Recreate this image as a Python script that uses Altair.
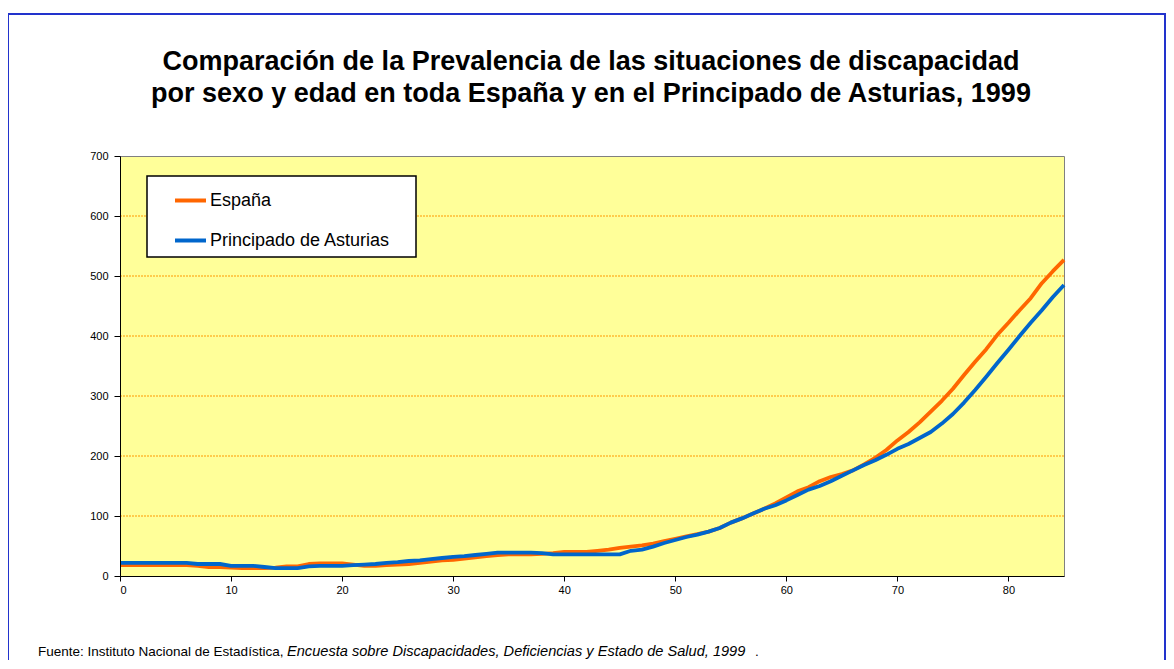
import altair as alt
import pandas as pd

# ---- data ----
ages = list(range(86))
espana = [18, 18, 18, 18, 18, 18, 18, 17, 15, 15,
          14, 13, 13, 13, 14, 16, 16, 20, 21, 21,
          21, 19, 17, 17, 18, 19, 20, 22, 24, 26,
          27, 29, 31, 33, 35, 36, 36, 36, 37, 38,
          40, 40, 40, 42, 44, 47, 49, 51, 54, 58,
          62, 66, 70, 74, 80, 89, 96, 104, 112, 121,
          131, 141, 148, 158, 165, 170, 176, 186, 197, 210,
          226, 240, 256, 274, 292, 312, 335, 357, 378, 402,
          422, 443, 463, 488, 508, 527]
asturias = [22, 22, 22, 22, 22, 22, 22, 20, 20, 20,
            17, 17, 17, 15, 13, 13, 13, 16, 17, 17,
            17, 18, 19, 20, 22, 23, 25, 26, 28, 30,
            32, 33, 35, 37, 39, 39, 39, 39, 38, 36,
            36, 36, 36, 36, 36, 36, 42, 44, 49, 55,
            60, 65, 69, 74, 80, 89, 96, 104, 112, 118,
            126, 135, 144, 150, 158, 167, 176, 185, 193, 202,
            212, 220, 230, 240, 254, 270, 289, 310, 332, 355,
            377, 400, 422, 443, 465, 485]
series_names = ["España", "Principado de Asturias"]
series_colors = ["#FF6600", "#0066CC"]
y_ticks = [0, 100, 200, 300, 400, 500, 600, 700]
x_ticks = [0, 10, 20, 30, 40, 50, 60, 70, 80]
grid_values = [100, 200, 300, 400, 500, 600]

title_lines = ["Comparación de la Prevalencia de las situaciones de discapacidad",
               "por sexo y edad en toda España y en el Principado de Asturias, 1999"]
footer_normal = "Fuente: Instituto Nacional de Estadística,"
footer_italic = "Encuesta sobre Discapacidades, Deficiencias y Estado de Salud, 1999"
footer_end = "."

rows = []
for name, vals in zip(series_names, [espana, asturias]):
    for a, v in zip(ages, vals):
        rows.append({"edad": a, "valor": v, "serie": name})
df = pd.DataFrame(rows)

W, H = 944, 420
FONT = "Liberation Sans"

xscale = alt.Scale(domain=[0, 85], nice=False, zero=False)
yscale = alt.Scale(domain=[0, 700], nice=False)
xaxis = alt.Axis(values=x_ticks, title=None, grid=False, tickSize=5, labelPadding=3,
                 labelFontSize=11, labelFont=FONT, labelColor="black",
                 tickColor="black", domainColor="black", zindex=1)
yaxis = alt.Axis(values=y_ticks, title=None, grid=False, tickSize=6, labelPadding=6,
                 labelFontSize=11, labelFont=FONT, labelColor="black",
                 tickColor="black", domainColor="black", zindex=1)

grid = alt.Chart(pd.DataFrame({"v": grid_values})).mark_rule(
    color="#FF9900", strokeWidth=1, strokeDash=[2, 1]
).encode(y=alt.Y("v:Q", scale=yscale, axis=yaxis))

lines = alt.Chart(df).mark_line(strokeWidth=3.8, strokeJoin="round").encode(
    x=alt.X("edad:Q", scale=xscale, axis=xaxis),
    y=alt.Y("valor:Q", scale=yscale, axis=yaxis),
    color=alt.Color("serie:N", scale=alt.Scale(domain=series_names, range=series_colors),
                    legend=alt.Legend(title=None, orient="none", legendX=53, legendY=27,
                                      symbolType="stroke", symbolSize=961,
                                      symbolStrokeWidth=4, symbolOpacity=1,
                                      labelFontSize=18, labelFont=FONT, labelColor="black",
                                      labelLimit=0, labelOffset=2, rowPadding=13, padding=0)),
)

one = pd.DataFrame({"k": [0]})
legend_box = alt.Chart(one).mark_rect(fill="white", stroke="black", strokeWidth=1.5).encode(
    x=alt.value(27), x2=alt.value(296), y=alt.value(20), y2=alt.value(101)
)

page_border = alt.Chart(one).mark_rect(fill=None, stroke="#2233CC", strokeWidth=2).encode(
    x=alt.value(-112), x2=alt.value(1045), y=alt.value(-142), y2=alt.value(600)
)

title1 = alt.Chart(one).mark_text(text=title_lines[0], font=FONT, fontSize=27, fontWeight="bold",
                                  align="center", baseline="alphabetic", color="black").encode(
    x=alt.value(W / 2 - 1), y=alt.value(-86))
title2 = alt.Chart(one).mark_text(text=title_lines[1], font=FONT, fontSize=27, fontWeight="bold",
                                  align="center", baseline="alphabetic", color="black").encode(
    x=alt.value(W / 2 - 1), y=alt.value(-54))

fx0 = -82
fy = 500
fx1 = 167
fx2 = 635
foot1 = alt.Chart(one).mark_text(text=footer_normal, font=FONT, fontSize=13.5, align="left",
                                 baseline="alphabetic", color="black").encode(
    x=alt.value(fx0), y=alt.value(fy))
foot2 = alt.Chart(one).mark_text(text=footer_italic, font=FONT, fontSize=14.6, fontStyle="italic",
                                 align="left", baseline="alphabetic", color="black").encode(
    x=alt.value(fx1), y=alt.value(fy))
foot3 = alt.Chart(one).mark_text(text=footer_end, font=FONT, fontSize=13.5, align="left",
                                 baseline="alphabetic", color="black").encode(
    x=alt.value(fx2), y=alt.value(fy))

chart = alt.layer(
    grid, lines, legend_box, page_border, title1, title2, foot1, foot2, foot3
).properties(
    width=W, height=H,
    autosize=alt.AutoSizeParams(type="none"),
    padding={"left": 112, "top": 148, "right": 102, "bottom": 84},
    background="white",
).configure_view(
    fill="#FFFF99", stroke="#808080", strokeWidth=1
).configure_legend(
    zindex=2
)

chart.save("out.html", embed_options={"renderer": "svg", "actions": False})
